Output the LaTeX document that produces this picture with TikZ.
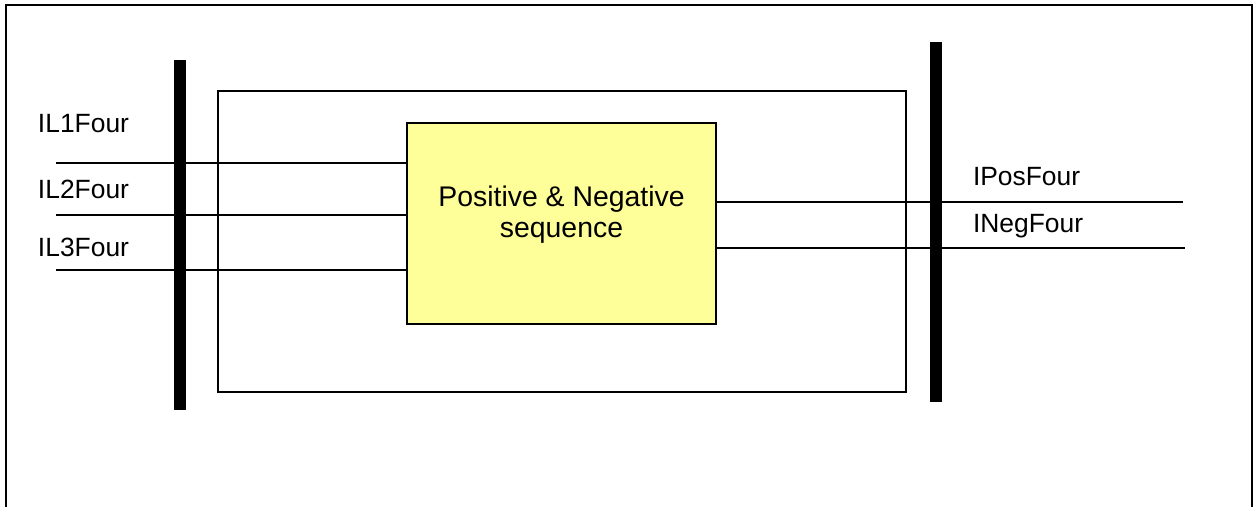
\documentclass[tikz,border=0pt]{standalone}
\usepackage{fontspec}
\setmainfont{Liberation Sans}
\usetikzlibrary{positioning}
\definecolor{seqgelb}{RGB}{255,255,153}

\begin{document}
\begin{tikzpicture}[x=0.5pt, y=-0.5pt, line width=1pt,
	sigtext/.style={anchor=base west, inner sep=0pt, font=\fontsize{13.2}{15}\selectfont},
	bus/.style={fill=black, inner sep=0pt, minimum width=6pt}]

	\useasboundingbox (0,0) rectangle (1259,507);

	% Rahmen
	\draw (6,507) -- (6,5) -- (1252,5) -- (1252,507);

	% Sammelschienen
	\node[bus, minimum height=175pt] (BL) at (180,235) {};
	\node[bus, minimum height=180pt] (BR) at (935.5,222) {};

	% Funktionsblock
	\node[draw, inner sep=0pt, minimum width=344pt, minimum height=150.5pt] (F) at (562,241.5) {};
	\node[draw, fill=seqgelb, inner sep=0pt, minimum width=154.5pt, minimum height=100.5pt] (seq) at (561.5,223.5) {};
	\node[align=center, inner sep=0pt, font=\fontsize{14.2}{15.5}\selectfont] (seqtxt) at ([yshift=4.5pt]seq.center) {Positive \& Negative\\sequence};

	% Eingaenge
	\coordinate (in1) at (56,163);
	\coordinate (in2) at (56,215);
	\coordinate (in3) at (56,270);

	\draw (in1) -- (in1 -| seq.west);
	\draw (in2) -- (in2 -| seq.west);
	\draw (in3) -- (in3 -| seq.west);

	\node[sigtext] (IL1) at (37,133) {IL1Four};
	\node[sigtext] (IL2) at (37,199) {IL2Four};
	\node[sigtext] (IL3) at (37,257) {IL3Four};

	% Ausgaenge
	\coordinate (out1) at (1183,202);
	\coordinate (out2) at (1185,248);

	\draw (seq.east |- out1) -- (out1);
	\draw (seq.east |- out2) -- (out2);

	\node[sigtext] (IPos) at (972,186) {IPosFour};
	\node[sigtext] (INeg) at (972,233) {INegFour};

\end{tikzpicture}
\end{document}
